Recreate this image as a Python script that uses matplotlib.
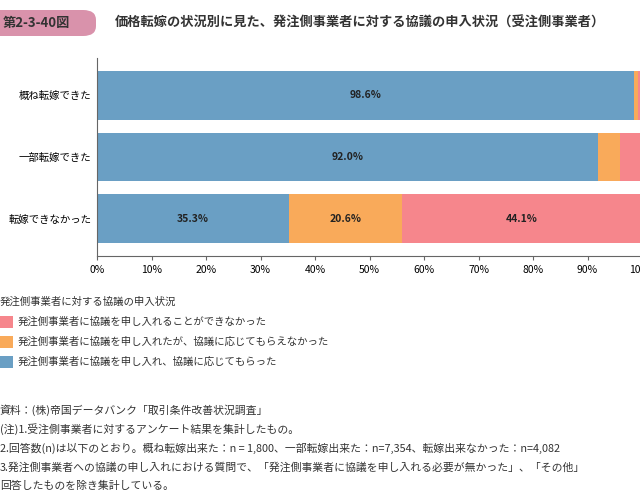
import matplotlib.pyplot as plt
from matplotlib.patches import FancyBboxPatch, Rectangle

plt.rcParams['font.family'] = ['Noto Sans CJK JP']

categories = ['概ね転嫁できた', '一部転嫁できた', '転嫁できなかった']
accepted = [98.6, 92.0, 35.3]       # 協議に応じてもらった
rejected = [0.7, 4.0, 20.6]         # 応じてもらえなかった
not_asked = [0.7, 4.0, 44.1]        # 申し入れできなかった
ticks = list(range(0, 101, 10))

legend_labels = ['発注側事業者に協議を申し入れることができなかった',
                 '発注側事業者に協議を申し入れたが、協議に応じてもらえなかった',
                 '発注側事業者に協議を申し入れ、協議に応じてもらった']
notes = ['資料：(株)帝国データバンク「取引条件改善状況調査」',
         '(注)1.受注側事業者に対するアンケート結果を集計したもの。',
         '2.回答数(n)は以下のとおり。概ね転嫁出来た：n = 1,800、一部転嫁出来た：n=7,354、転嫁出来なかった：n=4,082',
         '3.発注側事業者への協議の申し入れにおける質問で、「発注側事業者に協議を申し入れる必要が無かった」、「その他」',
         '回答したものを除き集計している。']

c_blue, c_orange, c_pink = '#6a9fc4', '#f9aa5a', '#f6868c'

fig = plt.figure(figsize=(6.4, 4.98), dpi=100)
ax = fig.add_axes([97 / 640, 1 - 256 / 498, 545 / 640, 198 / 498])

y = list(range(len(categories)))[::-1]
h = 0.79
ax.barh(y, accepted, height=h, color=c_blue)
left2 = [a for a in accepted]
ax.barh(y, rejected, left=left2, height=h, color=c_orange)
left3 = [a + r for a, r in zip(accepted, rejected)]
ax.barh(y, not_asked, left=left3, height=h, color=c_pink)

for yi, a, r, n, l2, l3 in zip(y, accepted, rejected, not_asked, left2, left3):
    ax.text(a / 2, yi, f'{a:.1f}%', ha='center', va='center', fontsize=7.5, fontweight='bold', color='#222')
    if r > 10:
        ax.text(l2 + r / 2, yi, f'{r:.1f}%', ha='center', va='center', fontsize=7.5, fontweight='bold', color='#222')
    if n > 10:
        ax.text(l3 + n / 2, yi, f'{n:.1f}%', ha='center', va='center', fontsize=7.5, fontweight='bold', color='#222')

ax.set_xlim(0, 100)
ax.set_ylim(-0.6, 2.6)
ax.set_xticks(ticks)
ax.set_xticklabels([f'{t}%' for t in ticks], fontsize=7.5)
ax.set_yticks(y)
ax.set_yticklabels(categories, fontsize=7.5)
for s in ['top', 'right']:
    ax.spines[s].set_visible(False)
ax.spines['left'].set_color('#666')
ax.spines['bottom'].set_color('#666')
ax.tick_params(axis='y', length=0, pad=4)
ax.tick_params(axis='x', length=3, color='#666')

# header
fig.patches.append(FancyBboxPatch((-0.05, 1 - 36 / 498), 0.2, 26 / 498,
                                  boxstyle='round,pad=0,rounding_size=0.02', transform=fig.transFigure,
                                  facecolor='#d992ab', edgecolor='none'))
fig.text(0.005, 1 - 23 / 498, '第2-3-40図', fontsize=9.5, fontweight='bold', color='#333', va='center')
fig.text(115 / 640, 1 - 23 / 498, '価格転嫁の状況別に見た、発注側事業者に対する協議の申入状況（受注側事業者）',
         fontsize=9.5, fontweight='bold', color='#333', va='center')

# legend
fig.text(0.0, 1 - 302 / 498, '発注側事業者に対する協議の申入状況', fontsize=7.5, color='#333', va='center')
for i, (lab, c) in enumerate(zip(legend_labels, [c_pink, c_orange, c_blue])):
    yy = 1 - (322 + 20 * i) / 498
    fig.patches.append(Rectangle((0.0, yy - 0.012), 0.02, 0.024, transform=fig.transFigure,
                                 facecolor=c, edgecolor='none'))
    fig.text(0.028, yy, lab, fontsize=7.5, color='#333', va='center')

for i, t in enumerate(notes):
    fig.text(0.0, 1 - (410 + 19 * i) / 498, t, fontsize=7.8, color='#333', va='center')

fig.savefig('out.png', dpi=100)
